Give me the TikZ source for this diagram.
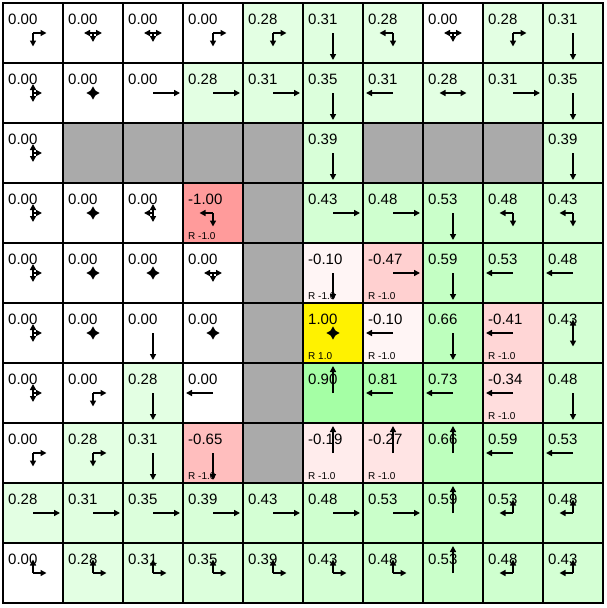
\documentclass[tikz,border=0pt]{standalone}
\usepackage{fontspec}
\setmainfont{Liberation Sans}
\usetikzlibrary{arrows.meta}
\definecolor{g28}{RGB}{227,255,227}
\definecolor{g31}{RGB}{224,255,224}
\definecolor{g35}{RGB}{220,255,220}
\definecolor{g39}{RGB}{216,255,216}
\definecolor{g43}{RGB}{212,255,212}
\definecolor{g48}{RGB}{207,255,207}
\definecolor{g53}{RGB}{202,255,202}
\definecolor{g59}{RGB}{196,255,196}
\definecolor{g66}{RGB}{189,255,189}
\definecolor{g73}{RGB}{182,255,182}
\definecolor{g81}{RGB}{174,255,174}
\definecolor{g90}{RGB}{165,255,165}
\definecolor{r10}{RGB}{255,245,245}
\definecolor{r19}{RGB}{255,236,236}
\definecolor{r27}{RGB}{255,228,228}
\definecolor{r34}{RGB}{255,221,221}
\definecolor{r41}{RGB}{255,214,214}
\definecolor{r47}{RGB}{255,208,208}
\definecolor{r65}{RGB}{255,190,190}
\definecolor{r100}{RGB}{255,155,155}
\definecolor{wallc}{RGB}{170,170,170}
\tikzset{
  val/.style={anchor=base west,inner sep=0pt,font=\fontsize{15}{18}\selectfont},
  rew/.style={anchor=base west,inner sep=0pt,font=\fontsize{10}{12}\selectfont},
  arr/.style={line width=1.6pt,-{Triangle[length=6pt,width=6pt]}},
  gridline/.style={line width=2pt,black,line cap=rect}
}
\newcommand\C[6]{%
  \fill[#4] ({3+60*#2},{3+60*#1}) rectangle ++(60,60);
  \node[val] at ({8+60*#2},{24+60*#1}) {#3};
  \foreach \dx/\dy in {#5} {\draw[arr] ({33+60*#2},{33+60*#1}) -- ++({#6*\dx},{#6*\dy});}
}
\newcommand\W[2]{\fill[wallc] ({3+60*#2},{3+60*#1}) rectangle ++(60,60);}
\newcommand\Rw[3]{\node[rew] at ({8+60*#2},{59+60*#1}) {#3};}
\begin{document}
\begin{tikzpicture}[x=1pt,y=-1pt]
\useasboundingbox (0,0) rectangle (607,608);
\fill[white] (0,0) rectangle (607,608);
% row 0
\C{0}{0}{0.00}{white}{1/0,0/1}{13.5}
\C{0}{1}{0.00}{white}{-1/0,1/0,0/1}{9}
\C{0}{2}{0.00}{white}{-1/0,1/0,0/1}{9}
\C{0}{3}{0.00}{white}{1/0,0/1}{13.5}
\C{0}{4}{0.28}{g28}{1/0,0/1}{13.5}
\C{0}{5}{0.31}{g31}{0/1}{27}
\C{0}{6}{0.28}{g28}{-1/0,0/1}{13.5}
\C{0}{7}{0.00}{white}{-1/0,1/0,0/1}{9}
\C{0}{8}{0.28}{g28}{1/0,0/1}{13.5}
\C{0}{9}{0.31}{g31}{0/1}{27}
% row 1
\C{1}{0}{0.00}{white}{0/-1,0/1,1/0}{9}
\C{1}{1}{0.00}{white}{-1/0,1/0,0/-1,0/1}{6.75}
\C{1}{2}{0.00}{white}{1/0}{27}
\C{1}{3}{0.28}{g28}{1/0}{27}
\C{1}{4}{0.31}{g31}{1/0}{27}
\C{1}{5}{0.35}{g35}{0/1}{27}
\C{1}{6}{0.31}{g31}{-1/0}{27}
\C{1}{7}{0.28}{g28}{-1/0,1/0}{13.5}
\C{1}{8}{0.31}{g31}{1/0}{27}
\C{1}{9}{0.35}{g35}{0/1}{27}
% row 2
\C{2}{0}{0.00}{white}{0/-1,0/1,1/0}{9}
\W{2}{1}\W{2}{2}\W{2}{3}\W{2}{4}
\C{2}{5}{0.39}{g39}{0/1}{27}
\W{2}{6}\W{2}{7}\W{2}{8}
\C{2}{9}{0.39}{g39}{0/1}{27}
% row 3
\C{3}{0}{0.00}{white}{0/-1,0/1,1/0}{9}
\C{3}{1}{0.00}{white}{-1/0,1/0,0/-1,0/1}{6.75}
\C{3}{2}{0.00}{white}{-1/0,0/-1,0/1}{9}
\C{3}{3}{-1.00}{r100}{-1/0,0/1}{13.5}\Rw{3}{3}{R -1.0}
\W{3}{4}
\C{3}{5}{0.43}{g43}{1/0}{27}
\C{3}{6}{0.48}{g48}{1/0}{27}
\C{3}{7}{0.53}{g53}{0/1}{27}
\C{3}{8}{0.48}{g48}{-1/0,0/1}{13.5}
\C{3}{9}{0.43}{g43}{-1/0,0/1}{13.5}
% row 4
\C{4}{0}{0.00}{white}{0/-1,0/1,1/0}{9}
\C{4}{1}{0.00}{white}{-1/0,1/0,0/-1,0/1}{6.75}
\C{4}{2}{0.00}{white}{-1/0,1/0,0/-1,0/1}{6.75}
\C{4}{3}{0.00}{white}{-1/0,1/0,0/1}{9}
\W{4}{4}
\C{4}{5}{-0.10}{r10}{0/1}{27}\Rw{4}{5}{R -1.0}
\C{4}{6}{-0.47}{r47}{1/0}{27}\Rw{4}{6}{R -1.0}
\C{4}{7}{0.59}{g59}{0/1}{27}
\C{4}{8}{0.53}{g53}{-1/0}{27}
\C{4}{9}{0.48}{g48}{-1/0}{27}
% row 5
\C{5}{0}{0.00}{white}{0/-1,0/1,1/0}{9}
\C{5}{1}{0.00}{white}{-1/0,1/0,0/-1,0/1}{6.75}
\C{5}{2}{0.00}{white}{0/1}{27}
\C{5}{3}{0.00}{white}{-1/0,1/0,0/-1,0/1}{6.75}
\W{5}{4}
\C{5}{5}{1.00}{yellow}{-1/0,1/0,0/-1,0/1}{6.75}\Rw{5}{5}{R 1.0}
\C{5}{6}{-0.10}{r10}{-1/0}{27}\Rw{5}{6}{R -1.0}
\C{5}{7}{0.66}{g66}{0/1}{27}
\C{5}{8}{-0.41}{r41}{-1/0}{27}\Rw{5}{8}{R -1.0}
\C{5}{9}{0.43}{g43}{0/-1,0/1}{13.5}
% row 6
\C{6}{0}{0.00}{white}{0/-1,0/1,1/0}{9}
\C{6}{1}{0.00}{white}{1/0,0/1}{13.5}
\C{6}{2}{0.28}{g28}{0/1}{27}
\C{6}{3}{0.00}{white}{-1/0}{27}
\W{6}{4}
\C{6}{5}{0.90}{g90}{0/-1}{27}
\C{6}{6}{0.81}{g81}{-1/0}{27}
\C{6}{7}{0.73}{g73}{-1/0}{27}
\C{6}{8}{-0.34}{r34}{-1/0}{27}\Rw{6}{8}{R -1.0}
\C{6}{9}{0.48}{g48}{0/1}{27}
% row 7
\C{7}{0}{0.00}{white}{1/0,0/1}{13.5}
\C{7}{1}{0.28}{g28}{1/0,0/1}{13.5}
\C{7}{2}{0.31}{g31}{0/1}{27}
\C{7}{3}{-0.65}{r65}{0/1}{27}\Rw{7}{3}{R -1.0}
\W{7}{4}
\C{7}{5}{-0.19}{r19}{0/-1}{27}\Rw{7}{5}{R -1.0}
\C{7}{6}{-0.27}{r27}{0/-1}{27}\Rw{7}{6}{R -1.0}
\C{7}{7}{0.66}{g66}{0/-1}{27}
\C{7}{8}{0.59}{g59}{-1/0}{27}
\C{7}{9}{0.53}{g53}{-1/0}{27}
% row 8
\C{8}{0}{0.28}{g28}{1/0}{27}
\C{8}{1}{0.31}{g31}{1/0}{27}
\C{8}{2}{0.35}{g35}{1/0}{27}
\C{8}{3}{0.39}{g39}{1/0}{27}
\C{8}{4}{0.43}{g43}{1/0}{27}
\C{8}{5}{0.48}{g48}{1/0}{27}
\C{8}{6}{0.53}{g53}{1/0}{27}
\C{8}{7}{0.59}{g59}{0/-1}{27}
\C{8}{8}{0.53}{g53}{0/-1,-1/0}{13.5}
\C{8}{9}{0.48}{g48}{0/-1,-1/0}{13.5}
% row 9
\C{9}{0}{0.00}{white}{0/-1,1/0}{13.5}
\C{9}{1}{0.28}{g28}{0/-1,1/0}{13.5}
\C{9}{2}{0.31}{g31}{0/-1,1/0}{13.5}
\C{9}{3}{0.35}{g35}{0/-1,1/0}{13.5}
\C{9}{4}{0.39}{g39}{0/-1,1/0}{13.5}
\C{9}{5}{0.43}{g43}{0/-1,1/0}{13.5}
\C{9}{6}{0.48}{g48}{0/-1,1/0}{13.5}
\C{9}{7}{0.53}{g53}{0/-1}{27}
\C{9}{8}{0.48}{g48}{0/-1,-1/0}{13.5}
\C{9}{9}{0.43}{g43}{0/-1,-1/0}{13.5}
% grid
\foreach \k in {0,...,10} {
  \draw[gridline] ({3+60*\k},3) -- ({3+60*\k},603);
  \draw[gridline] (3,{3+60*\k}) -- (603,{3+60*\k});
}
\end{tikzpicture}
\end{document}
